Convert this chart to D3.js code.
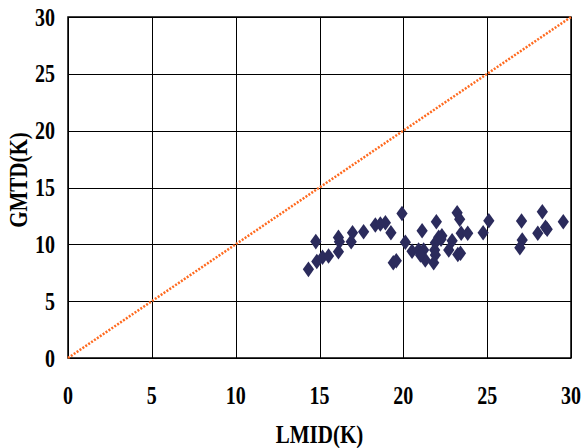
<!DOCTYPE html>
<html>
<head>
<meta charset="utf-8">
<script src="https://cdn.jsdelivr.net/npm/d3@7"></script>
<style>
body { margin: 0; background: #fff; }
text { font-family: "Liberation Serif", "Times New Roman", serif; font-weight: bold; }
</style>
</head>
<body>
<script>
// data
var lmtd = [14.34, 14.78, 14.84, 15.18, 15.54, 16.13, 16.19, 16.13, 16.89, 16.97,
            17.63, 18.33, 18.63, 18.93, 19.26, 19.40, 19.58, 19.92, 20.12, 20.52,
            20.91, 21.21, 21.12, 21.97, 22.11, 21.91, 21.87, 21.91, 21.81, 21.31,
            21.02, 22.71, 22.91, 23.41, 23.21, 23.36, 23.45, 23.84, 24.76, 25.10,
            27.05, 27.09, 26.95, 28.29, 28.02, 28.48, 28.58, 29.54, 22.30, 22.25,
            23.25];
var gmtd = [7.80, 10.24, 8.49, 8.86, 8.97, 10.61, 10.23, 9.35, 10.23, 11.02,
            11.11, 11.70, 11.79, 11.90, 11.02, 8.38, 8.56, 12.72, 10.18, 9.39,
            9.50, 9.50, 11.20, 11.99, 10.62, 10.14, 9.50, 9.06, 8.38, 8.62,
            9.06, 9.50, 10.32, 9.21, 12.78, 12.20, 10.97, 10.97, 11.02, 12.08,
            12.06, 10.38, 9.70, 12.87, 10.97, 11.50, 11.32, 11.99, 10.75, 10.45,
            9.10];
var ticks = [0, 5, 10, 15, 20, 25, 30];
var diagonal = [0, 30];

var width = 583, height = 448;
var plotLeft = 68, plotRight = 571, plotTop = 17, plotBottom = 358;
var stretch = 1.22; // text in the picture is taller than it is wide

let svg = d3.select("body").append("svg")
    .attr("width", width)
    .attr("height", height);

var x = d3.scaleLinear().domain([0, 30]).range([plotLeft, plotRight]);
var y = d3.scaleLinear().domain([0, 30]).range([plotBottom, plotTop]);

// grid
svg.append("g")
    .attr("transform", "translate(0," + plotBottom + ")")
    .call(d3.axisBottom(x).tickValues(ticks).tickSize(-(plotBottom - plotTop)).tickFormat(""))
    .call(g => g.select(".domain").remove())
    .selectAll("line").attr("stroke", "#000").attr("shape-rendering", "crispEdges");

svg.append("g")
    .attr("transform", "translate(" + plotLeft + ",0)")
    .call(d3.axisLeft(y).tickValues(ticks).tickSize(-(plotRight - plotLeft)).tickFormat(""))
    .call(g => g.select(".domain").remove())
    .selectAll("line").attr("stroke", "#000").attr("shape-rendering", "crispEdges");

// frame
svg.append("rect")
    .attr("x", plotLeft).attr("y", plotTop)
    .attr("width", plotRight - plotLeft).attr("height", plotBottom - plotTop)
    .attr("fill", "none").attr("stroke", "#000").attr("stroke-width", 1.5);

// tick labels
svg.selectAll(".xlab")
    .data(ticks)
    .enter().append("text")
    .attr("class", "xlab")
    .attr("transform", d => "translate(" + x(d) + ",404) scale(1," + stretch + ")")
    .attr("text-anchor", "middle")
    .attr("font-size", 20)
    .text(d => d);

svg.selectAll(".ylab")
    .data(ticks)
    .enter().append("text")
    .attr("class", "ylab")
    .attr("transform", d => "translate(55," + (y(d) + 8.5) + ") scale(1," + stretch + ")")
    .attr("text-anchor", "end")
    .attr("font-size", 20)
    .text(d => d);

// y = x line
svg.append("line")
    .attr("x1", x(diagonal[0])).attr("y1", y(diagonal[0]))
    .attr("x2", x(diagonal[1])).attr("y2", y(diagonal[1]))
    .attr("stroke", "#ff6a1f")
    .attr("stroke-width", 2.5)
    .attr("stroke-dasharray", "2,1.5");

// points
var diamond = d3.symbol().type(d3.symbolDiamond).size(70);
svg.selectAll(".pt")
    .data(lmtd)
    .enter().append("path")
    .attr("class", "pt")
    .attr("d", diamond)
    .attr("transform", (d, i) => "translate(" + x(d) + "," + y(gmtd[i]) + ") scale(1.25,1)")
    .attr("fill", "#2b2b5c");

// axis titles
svg.append("text")
    .attr("transform", "translate(" + ((plotLeft + plotRight) / 2) + ",443) scale(1," + stretch + ")")
    .attr("text-anchor", "middle")
    .attr("font-size", 21)
    .text("LMID(K)");

svg.append("text")
    .attr("transform", "translate(27,180) rotate(-90) scale(1," + stretch + ")")
    .attr("text-anchor", "middle")
    .attr("font-size", 21)
    .text("GMTD(K)");
</script>
</body>
</html>
